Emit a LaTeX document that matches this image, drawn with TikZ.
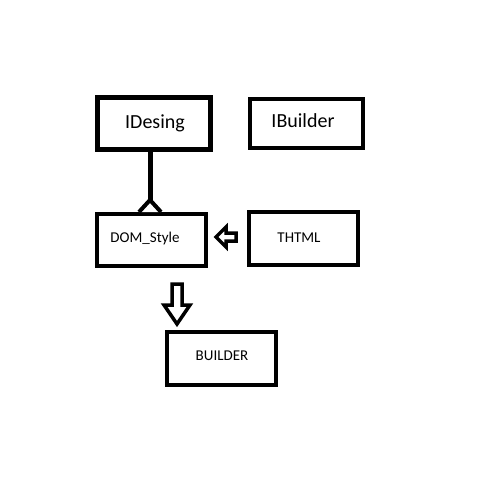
\documentclass[tikz,border=0pt]{standalone}
\usepackage{fontspec}
\setmainfont{Carlito}
\begin{document}
\begin{tikzpicture}[x=1pt,y=-1pt,
  box/.style={draw=black,fill=white,rectangle,inner sep=0pt},
  big/.style={font=\fontsize{20}{24}\selectfont},
  small/.style={font=\fontsize{15}{18}\selectfont},
  hollow/.style={draw=black,line width=4pt,fill=white,line join=miter}]
\useasboundingbox[fill=white] (0,0) rectangle (500,500);
% boxes
\node[box,line width=5pt,minimum width=113pt,minimum height=52pt] (idesing) at (154,123.5) {};
\node[box,line width=4pt,minimum width=113pt,minimum height=49pt] (ibuilder) at (306.5,123.5) {};
\node[box,line width=4pt,minimum width=109pt,minimum height=52pt] (dom) at (151.5,240) {};
\node[box,line width=4pt,minimum width=109pt,minimum height=53pt] (thtml) at (303.5,238.5) {};
\node[box,line width=4pt,minimum width=109pt,minimum height=53pt] (builder) at (221.5,358.5) {};
% texts
\node[big] (tidesing) at (155,123) {IDesing};
\node[big] (tibuilder) at (303,121) {IBuilder};
\node[small] (tdom) at (145,238) {DOM\_Style};
\node[small] (tthtml) at (299,238) {THTML};
\node[small] (tbuilder) at (222,356) {BUILDER};
% aggregation line with diamond
\coordinate (dtop) at (150,200);
\draw[line width=5pt] (idesing.south -| dtop) -- (dtop);
\draw[line width=4pt,fill=white,line join=miter] (139,212) -- (dtop) -- (161,212);
% hollow left arrow THTML -> DOM_Style
\draw[hollow,line width=3.5pt] (216,237) -- (226,227) -- (226,233) -- (236,233) -- (236,241) -- (226,241) -- (226,247) -- cycle;
% hollow down arrow
\draw[hollow,line width=3.5pt] (177,324) -- (164,305) -- (172,305) -- (172,284) -- (182,284) -- (182,305) -- (190,305) -- cycle;
\end{tikzpicture}
\end{document}
